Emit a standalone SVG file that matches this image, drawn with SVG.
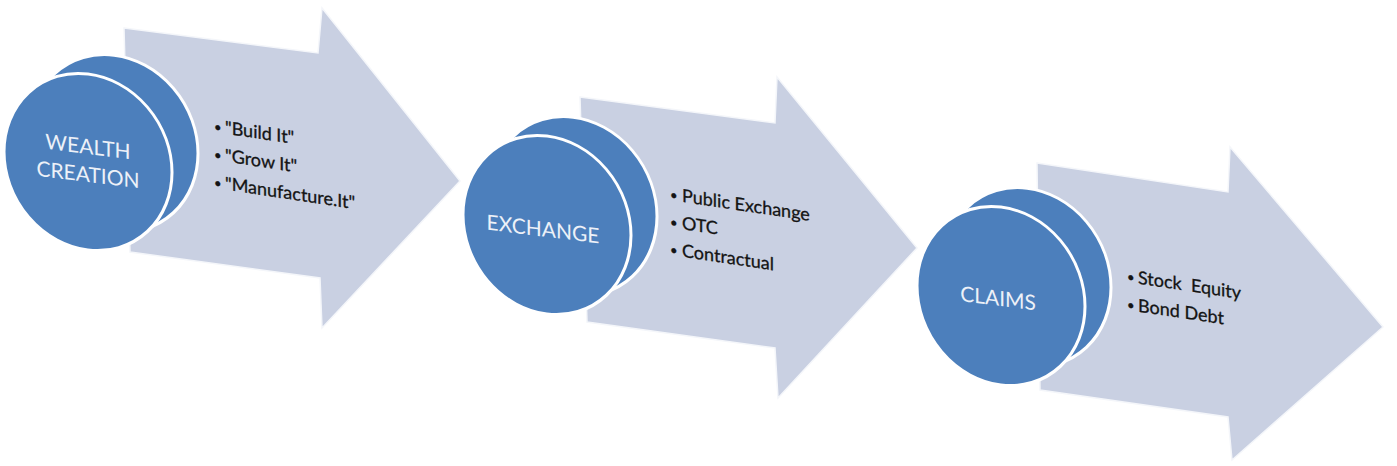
<svg xmlns="http://www.w3.org/2000/svg" width="1397" height="466" viewBox="0 0 1397 466">
<style>
.arrow{fill:#C9D0E2;stroke:#F4F6FA;stroke-width:1.5;stroke-linejoin:miter}
.disc{fill:#4C7FBC;stroke:#FFFFFF;stroke-width:3}
.title{font-family:Lato,"Liberation Sans",sans-serif;font-size:21px;fill:#EDF1F8;text-anchor:middle}
.item{font-family:Lato,"Liberation Sans",sans-serif;font-size:18px;fill:#141414;stroke:#141414;stroke-width:0.3}
.dot{font-size:13px}
</style>
<rect width="1397" height="466" fill="#FFFFFF"/>
<g id="node-wealth-creation">
<polygon class="arrow" points="124,28 318,53 322,8 460,181 322,328 320,278 130,252"/>
<g transform="translate(88,162) skewY(7)">
<ellipse class="disc" cx="26" cy="-22" rx="84" ry="88"/>
<ellipse class="disc" cx="0" cy="0" rx="84" ry="88"/>
<text class="title" x="0" y="-8">WEALTH</text>
<text class="title" x="0" y="20">CREATION</text>
</g>
<g class="item" transform="translate(214,132) skewY(8.5)">
<text class="dot" x="0" y="-1">•</text><text x="11" y="0">"Build It"</text>
<text class="dot" x="0" y="27">•</text><text x="11" y="28">"Grow It"</text>
<text class="dot" x="0" y="55">•</text><text x="11" y="56">"Manufacture.It"</text>
</g>
</g>
<g id="node-exchange">
<polygon class="arrow" points="580,97 775,123 777,77 917,248 778,398 775,348 587,322"/>
<g transform="translate(547,225) skewY(7)">
<ellipse class="disc" cx="26" cy="-22" rx="84" ry="89"/>
<ellipse class="disc" cx="0" cy="0" rx="84" ry="89"/>
<text class="title" x="-4" y="12">EXCHANGE</text>
</g>
<g class="item" transform="translate(670,200) skewY(8.5)">
<text class="dot" x="0" y="-1">•</text><text x="12" y="0">Public Exchange</text>
<text class="dot" x="0" y="26.5">•</text><text x="12" y="27.5">OTC</text>
<text class="dot" x="0" y="54">•</text><text x="12" y="55">Contractual</text>
</g>
</g>
<g id="node-claims">
<polygon class="arrow" points="1037,163 1228,192 1230,147 1383,327 1232,460 1228,417 1040,390"/>
<g transform="translate(1001,296) skewY(7)">
<ellipse class="disc" cx="26" cy="-22" rx="84" ry="89"/>
<ellipse class="disc" cx="0" cy="0" rx="84" ry="89"/>
<text class="title" x="-3" y="10">CLAIMS</text>
</g>
<g class="item" transform="translate(1127,282) skewY(8.5)">
<text class="dot" x="0" y="-1">•</text><text x="11" y="0" xml:space="preserve">Stock  Equity</text>
<text class="dot" x="0" y="27">•</text><text x="11" y="28">Bond Debt</text>
</g>
</g>
</svg>
